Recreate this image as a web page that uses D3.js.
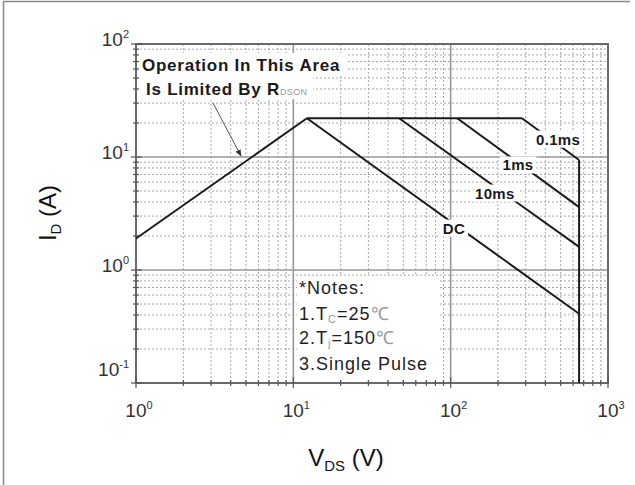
<!DOCTYPE html>
<html>
<head>
<meta charset="utf-8">
<script src="https://cdn.jsdelivr.net/npm/d3@7"></script>
<style>
  html, body { margin: 0; padding: 0; background: #fff; }
  svg { display: block; font-family: Arial, "Liberation Sans", sans-serif; }
</style>
</head>
<body>
<svg id="chart" width="635" height="485"></svg>
<script>
// Safe operating area, log–log (VDS in volts, ID in amps)
const xTickValues = [1, 10, 100, 1000];
const xTickExponents = ["0", "1", "2", "3"];
const yTickValues = [0.1, 1, 10, 100];
const yTickExponents = ["-1", "0", "1", "2"];

// R_DS(on) limited segment
const rdsonV = [1, 12.2];
const rdsonI = [1.9, 22];
// Package current limit
const limitV = [12.2, 284];
const limitI = [22, 22];
// Pulse-width boundaries
const dcV = [12.2, 655];
const dcI = [22, 0.41];
const ms10V = [47, 655];
const ms10I = [22, 1.6];
const ms1V = [110, 655];
const ms1I = [22, 3.6];
const ms01V = [284, 655];
const ms01I = [22, 9.4];
// Breakdown voltage limit
const bvV = [655, 655];
const bvI = [9.4, 0.1];

const curveLabels = ["0.1ms", "1ms", "10ms", "DC"];
const curveLabelV = [482, 268, 191, 105];
const curveLabelI = [14.4, 8.5, 4.8, 2.35];

const svg = d3.select("#chart");

// outer frame (top + left edges)
svg.append("path")
  .attr("d", "M3.5,485 V1.5 H630")
  .attr("fill", "none").attr("stroke", "#8a8a8a").attr("stroke-width", 1.5);

const x = d3.scaleLog().domain([1, 1000]).range([136, 608]);
const y = d3.scaleLog().domain([0.1, 100]).range([383, 44]);

const minorVals = (lo, hi) => {
  const out = [];
  for (let d = lo; d < hi; d *= 10) for (let k = 2; k <= 9; k++) out.push(+(d * k).toPrecision(3));
  return out;
};
const xMinor = minorVals(1, 1000);
const yMinor = minorVals(0.1, 100);

const grid = svg.append("g");
// minor grid: dotted
grid.selectAll(".vx").data(xMinor).enter().append("line")
  .attr("x1", d => x(d)).attr("x2", d => x(d)).attr("y1", y(100)).attr("y2", y(0.1))
  .attr("stroke", "#a8a8a8").attr("stroke-width", 1).attr("stroke-dasharray", "2,2");
grid.selectAll(".hy").data(yMinor).enter().append("line")
  .attr("y1", d => y(d)).attr("y2", d => y(d)).attr("x1", x(1)).attr("x2", x(1000))
  .attr("stroke", "#a8a8a8").attr("stroke-width", 1).attr("stroke-dasharray", "2,2");
// major grid: solid
grid.selectAll(".mx").data(xTickValues.slice(1, -1)).enter().append("line")
  .attr("x1", d => x(d)).attr("x2", d => x(d)).attr("y1", y(100)).attr("y2", y(0.1))
  .attr("stroke", "#999").attr("stroke-width", 1.6);
grid.selectAll(".my").data(yTickValues.slice(1, -1)).enter().append("line")
  .attr("y1", d => y(d)).attr("y2", d => y(d)).attr("x1", x(1)).attr("x2", x(1000))
  .attr("stroke", "#999").attr("stroke-width", 1.6);

// plot frame
svg.append("rect")
  .attr("x", x(1)).attr("y", y(100)).attr("width", x(1000) - x(1)).attr("height", y(0.1) - y(100))
  .attr("fill", "none").attr("stroke", "#6a6a6a").attr("stroke-width", 2);

// axis ticks (crossing the frame)
const ticks = svg.append("g").attr("stroke", "#555").attr("stroke-width", 1.2);
ticks.selectAll(".tx").data(xMinor.concat(xTickValues)).enter().append("line")
  .attr("x1", d => x(d)).attr("x2", d => x(d))
  .attr("y1", d => y(0.1) - (xTickValues.includes(d) ? 6 : 3))
  .attr("y2", d => y(0.1) + (xTickValues.includes(d) ? 5 : 3));
ticks.selectAll(".ty").data(yMinor.concat(yTickValues)).enter().append("line")
  .attr("y1", d => y(d)).attr("y2", d => y(d))
  .attr("x1", d => x(1) - (yTickValues.includes(d) ? 5 : 3))
  .attr("x2", d => x(1) + (yTickValues.includes(d) ? 6 : 3));

// tick labels 10^n
const xl = svg.append("g").attr("fill", "#333").attr("font-size", 19);
xTickValues.forEach((v, i) => {
  const t = xl.append("text").attr("x", x(v) + 3).attr("y", 417).attr("text-anchor", "middle");
  t.append("tspan").text("10");
  t.append("tspan").attr("font-size", 11).attr("dy", -8).text(xTickExponents[i]);
});
yTickValues.forEach((v, i) => {
  const t = xl.append("text").attr("x", 129).attr("y", y(v) + (v === 0.1 ? -7 : 2)).attr("text-anchor", "end");
  t.append("tspan").text("10");
  t.append("tspan").attr("font-size", 11).attr("dy", -8).text(yTickExponents[i]);
});

// axis titles
const yt = svg.append("text").attr("transform", "translate(56,213) rotate(-90)")
  .attr("text-anchor", "middle").attr("font-size", 24).attr("fill", "#111");
yt.append("tspan").text("I");
yt.append("tspan").attr("font-size", 15).attr("dy", 5).text("D");
yt.append("tspan").attr("dy", -5).text(" (A)");

const xt = svg.append("text").attr("x", 346).attr("y", 466)
  .attr("text-anchor", "middle").attr("font-size", 24).attr("fill", "#111");
xt.append("tspan").text("V");
xt.append("tspan").attr("font-size", 15).attr("dy", 5).text("DS");
xt.append("tspan").attr("dy", -5).text(" (V)");

// SOA boundaries
const line = d3.line().x(d => x(d[0])).y(d => y(d[1]));
const curves = [
  [rdsonV, rdsonI], [limitV, limitI], [dcV, dcI],
  [ms10V, ms10I], [ms1V, ms1I], [ms01V, ms01I], [bvV, bvI]
];
const cg = svg.append("g");
curves.forEach(([vs, is]) => {
  cg.append("path").datum(vs.map((v, i) => [v, is[i]]))
    .attr("d", line).attr("fill", "none")
    .attr("stroke", "#1a1a1a").attr("stroke-width", 2).attr("stroke-linejoin", "miter");
});

// curve labels on white patches
const lg = svg.append("g");
curveLabels.forEach((s, i) => {
  const t = lg.append("text").attr("x", x(curveLabelV[i])).attr("y", y(curveLabelI[i]))
    .attr("text-anchor", "middle").attr("dominant-baseline", "central")
    .attr("font-size", 15).attr("font-weight", "bold").attr("letter-spacing", 0.3)
    .attr("fill", "#1a1a1a").text(s);
  const b = t.node().getBBox();
  lg.insert("rect", "text").attr("x", b.x - 3).attr("y", b.y)
    .attr("width", b.width + 6).attr("height", b.height).attr("fill", "#fff");
});

// R_DS(on) annotation
const ann = svg.append("g");
ann.append("rect").attr("x", 140).attr("y", 53).attr("width", 207).attr("height", 23).attr("fill", "#fff");
ann.append("rect").attr("x", 140).attr("y", 76).attr("width", 173).attr("height", 23).attr("fill", "#fff");
ann.append("text").attr("x", 142).attr("y", 71).attr("font-size", 17).attr("font-weight", "bold")
  .attr("letter-spacing", 0.75).attr("fill", "#1a1a1a").text("Operation In This Area");
const a2 = ann.append("text").attr("x", 146).attr("y", 95).attr("font-size", 17).attr("font-weight", "bold")
  .attr("letter-spacing", 0.75).attr("fill", "#1a1a1a");
a2.append("tspan").text("Is Limited By R");
a2.append("tspan").attr("font-size", 9).attr("font-weight", "normal").attr("letter-spacing", 0.3)
  .attr("fill", "#999").text("DSON");

svg.append("defs").append("marker").attr("id", "ah")
  .attr("viewBox", "0 0 10 10").attr("refX", 9).attr("refY", 5)
  .attr("markerWidth", 7).attr("markerHeight", 7).attr("orient", "auto")
  .append("path").attr("d", "M0,1 L10,5 L0,9 z").attr("fill", "#333");
ann.append("line").attr("x1", 213).attr("y1", 103).attr("x2", 241).attr("y2", 156)
  .attr("stroke", "#555").attr("stroke-width", 1).attr("marker-end", "url(#ah)");

// test-condition notes
const notes = svg.append("g");
notes.append("rect").attr("x", 297).attr("y", 276).attr("width", 143).attr("height", 102).attr("fill", "#fff");
const nt = notes.append("g").attr("font-size", 18).attr("letter-spacing", 1).attr("fill", "#1e1e1e");
nt.append("text").attr("x", 299).attr("y", 294).text("*Notes:");
const n1 = nt.append("text").attr("x", 299).attr("y", 320);
n1.append("tspan").text("1.T");
n1.append("tspan").attr("font-size", 11).attr("dy", 3).attr("fill", "#999").text("C");
n1.append("tspan").attr("dy", -3).text("=25");
n1.append("tspan").attr("fill", "#999").text("℃");
const n2 = nt.append("text").attr("x", 299).attr("y", 344);
n2.append("tspan").text("2.T");
n2.append("tspan").attr("font-size", 11).attr("dy", 3).attr("fill", "#999").text("j");
n2.append("tspan").attr("dy", -3).text("=150");
n2.append("tspan").attr("fill", "#999").text("℃");
nt.append("text").attr("x", 299).attr("y", 370).text("3.Single Pulse");
</script>
</body>
</html>
